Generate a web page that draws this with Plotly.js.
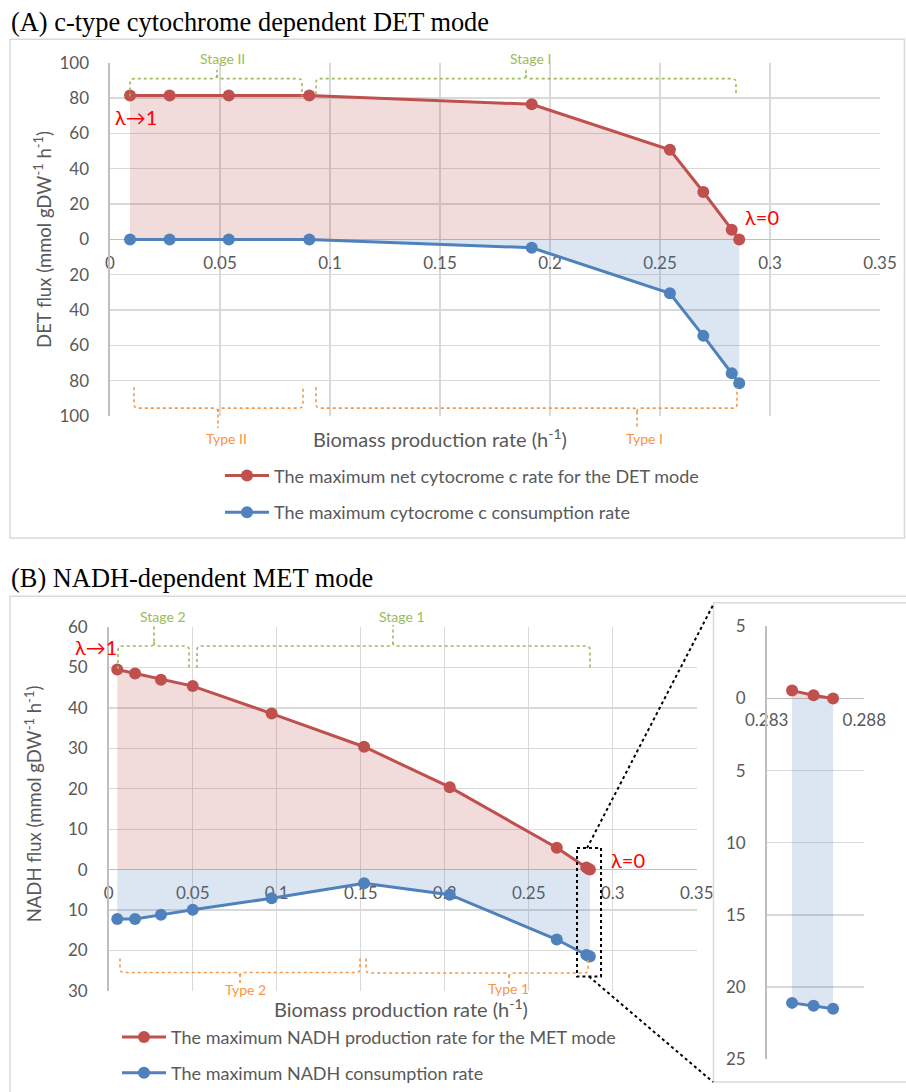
<!DOCTYPE html>
<html>
<head>
<meta charset="utf-8">
<script src="https://cdn.plot.ly/plotly-3.0.1.min.js"></script>
<style>html,body{margin:0;padding:0;background:#fff;}#chart{width:906px;height:1092px;}</style>
</head>
<body>
<div id="chart"></div>
<script>
// ---------- DATA ----------
// Panel A: c-type cytochrome dependent DET mode
const biomassA = [0.0091, 0.0271, 0.054, 0.0906, 0.1917, 0.2545, 0.2697, 0.2826, 0.286];
const netCytA  = [81.4, 81.4, 81.4, 81.4, 76.5, 50.7, 26.8, 5.5, 0];
const consCytA = [0, 0, 0, 0, -4.7, -30.5, -54.6, -75.7, -81.4];
// Panel B: NADH-dependent MET mode
const biomassB = [0.0051, 0.0157, 0.0311, 0.05, 0.097, 0.152, 0.203, 0.2667, 0.2843, 0.2854, 0.2864];
const prodNadhB = [49.5, 48.5, 47.0, 45.4, 38.6, 30.4, 20.4, 5.4, 0.55, 0.23, 0];
const consNadhB = [-12.2, -12.2, -11.2, -9.95, -7.1, -3.4, -6.2, -17.3, -21.1, -21.3, -21.5];
// Inset: last three points of panel B
const insetCount = 3;

// Tick labels
const xTickVals = [0, 0.05, 0.1, 0.15, 0.2, 0.25, 0.3, 0.35];
const xTickText = ['0', '0.05', '0.1', '0.15', '0.2', '0.25', '0.3', '0.35'];
const yTickValsA = [-100, -80, -60, -40, -20, 0, 20, 40, 60, 80, 100];
const yTickTextA = ['100', '80', '60', '40', '20', '0', '20', '40', '60', '80', '100'];
const yTickValsB = [-30, -20, -10, 0, 10, 20, 30, 40, 50, 60];
const yTickTextB = ['30', '20', '10', '0', '10', '20', '30', '40', '50', '60'];
const xTickValsI = [0.283, 0.288];
const xTickTextI = ['0.283', '0.288'];
const yTickValsI = [-25, -20, -15, -10, -5, 0, 5];
const yTickTextI = ['25', '20', '15', '10', '5', '0', '5'];

const legendA = ['The maximum net cytocrome c rate for the DET mode', 'The maximum cytocrome c consumption rate'];
const legendB = ['The maximum NADH production rate for the MET mode', 'The maximum NADH consumption rate'];

// ---------- STYLE ----------
const W = 906, H = 1092;
const RED = '#C0504D', BLUE = '#4F81BD';
const RED_FILL = 'rgba(192,80,77,0.2)', BLUE_FILL = 'rgba(79,129,189,0.2)';
const GREEN = '#9BBB59', ORANGE = '#F79646';
const GRID = '#d9d9d9', AXIS = '#bfbfbf', TXT = '#595959';
const FONT = 'Lato, "DejaVu Sans", sans-serif';
const px = x => x / W;
const py = y => 1 - y / H;

function fillTrace(x, y, color, xa, ya) {
  return {x: x, y: y, mode: 'none', fill: 'tozeroy', fillcolor: color,
          xaxis: xa, yaxis: ya, showlegend: false, hoverinfo: 'skip', type: 'scatter'};
}
function lineTrace(x, y, color, xa, ya, name, legend) {
  const t = {x: x, y: y, mode: 'lines+markers',
          line: {color: color, width: 3}, marker: {color: color, size: 12},
          xaxis: xa, yaxis: ya, showlegend: !!name, type: 'scatter'};
  if (name) { t.name = name; t.legend = legend; }
  return t;
}

const insetX = biomassB.slice(-insetCount);
const insetP = prodNadhB.slice(-insetCount);
const insetC = consNadhB.slice(-insetCount);

const data = [
  fillTrace(biomassA, netCytA, RED_FILL, 'x', 'y'),
  fillTrace(biomassA, consCytA, BLUE_FILL, 'x', 'y'),
  lineTrace(biomassA, netCytA, RED, 'x', 'y', legendA[0], 'legend'),
  lineTrace(biomassA, consCytA, BLUE, 'x', 'y', legendA[1], 'legend2'),
  fillTrace(biomassB, prodNadhB, RED_FILL, 'x2', 'y2'),
  fillTrace(biomassB, consNadhB, BLUE_FILL, 'x2', 'y2'),
  lineTrace(biomassB, prodNadhB, RED, 'x2', 'y2', legendB[0], 'legend3'),
  lineTrace(biomassB, consNadhB, BLUE, 'x2', 'y2', legendB[1], 'legend4'),
  fillTrace(insetX, insetP, RED_FILL, 'x3', 'y3'),
  fillTrace(insetX, insetC, BLUE_FILL, 'x3', 'y3'),
  lineTrace(insetX, insetP, RED, 'x3', 'y3'),
  lineTrace(insetX, insetC, BLUE, 'x3', 'y3')
];

function xAxis(domain, range, tv, tt, zeroY) {
  return {domain: domain, range: range, tickvals: tv, ticktext: tt, anchor: 'free', position: zeroY,
          showgrid: true, gridcolor: GRID, gridwidth: 1.3, zeroline: false, showline: false,
          ticks: '', ticklabelstandoff: 11, layer: 'below traces',
          tickfont: {family: FONT, size: 17, color: TXT}, fixedrange: true};
}
function yAxis(domain, range, tv, tt, anchor) {
  return {domain: domain, range: range, tickvals: tv, ticktext: tt, anchor: anchor,
          showgrid: true, gridcolor: GRID, gridwidth: 1.3,
          zeroline: true, zerolinecolor: AXIS, zerolinewidth: 1.6,
          showline: true, linecolor: AXIS, linewidth: 1.6, ticks: '', ticklabelstandoff: 16,
          tickfont: {family: FONT, size: 17, color: TXT}, fixedrange: true};
}

// Brace shapes (decoration, pixel positions)
function brace(x0, x1, xm, yBar, yEnd, yTip, color) {
  const r = 4;
  const d1 = yEnd > yBar ? 1 : -1;
  const d2 = yTip > yBar ? 1 : -1;
  const P = (x, y) => px(x).toFixed(5) + ',' + py(y).toFixed(5);
  const path = 'M' + P(x0, yEnd) + ' L' + P(x0, yBar + d1 * r) +
    ' Q' + P(x0, yBar) + ' ' + P(x0 + r, yBar) + ' L' + P(xm - r, yBar) +
    ' Q' + P(xm, yBar) + ' ' + P(xm, yBar + d2 * r) + ' L' + P(xm, yTip) +
    ' M' + P(xm, yBar + d2 * r) + ' Q' + P(xm, yBar) + ' ' + P(xm + r, yBar) +
    ' L' + P(x1 - r, yBar) + ' Q' + P(x1, yBar) + ' ' + P(x1, yBar + d1 * r) +
    ' L' + P(x1, yEnd);
  return {type: 'path', xref: 'paper', yref: 'paper', path: path,
          line: {color: color, width: 1.6, dash: 'dot'}};
}
function rect(x0, y0, x1, y1, color, width, dash) {
  return {type: 'rect', xref: 'paper', yref: 'paper', x0: px(x0), x1: px(x1), y0: py(y0), y1: py(y1),
          line: {color: color, width: width, dash: dash || 'solid'}, fillcolor: 'rgba(0,0,0,0)'};
}
function seg(x0, y0, x1, y1, color, width, dash) {
  return {type: 'line', xref: 'paper', yref: 'paper', x0: px(x0), x1: px(x1), y0: py(y0), y1: py(y1),
          line: {color: color, width: width, dash: dash || 'solid'}};
}

const shapes = [
  rect(10, 39.5, 904.5, 540.5, GRID, 1.5),
  rect(10, 599, 912, 1100, GRID, 1.5),
  rect(713.5, 605.5, 912, 1087, GRID, 1.5),
  brace(130, 302, 217, 79, 97, 70, GREEN),
  brace(316, 736, 526, 79, 95, 70, GREEN),
  brace(134, 303, 218, 410, 389, 430, ORANGE),
  brace(316, 737, 637, 410, 389, 430, ORANGE),
  brace(118, 189, 154, 649, 672, 628, GREEN),
  brace(197, 590, 393, 649, 671, 628, GREEN),
  brace(120, 360, 240, 977, 963, 988, ORANGE),
  brace(366, 588, 509, 977.5, 963, 990, ORANGE),
  rect(577, 852, 601, 981, '#000', 2, 'dot'),
  seg(587, 852, 714, 606, '#000', 2, 'dot'),
  seg(589, 981, 713, 1087, '#000', 2, 'dot')
];

function ann(text, x, y, size, color, opts) {
  return Object.assign({text: text, x: px(x), y: py(y), xref: 'paper', yref: 'paper',
          showarrow: false, xanchor: 'center', yanchor: 'middle',
          font: {family: FONT, size: size, color: color}}, opts || {});
}
const SERIF = '"Liberation Serif", "Times New Roman", serif';
const annotations = [
  ann('(A) c-type cytochrome dependent DET mode', 9, 22, 26, '#000', {xanchor: 'left', font: {family: SERIF, size: 26.4, color: '#000'}}),
  ann('(B) NADH-dependent MET mode', 9, 581, 26, '#000', {xanchor: 'left', font: {family: SERIF, size: 26.4, color: '#000'}}),
  ann('Stage II', 222, 59, 14, GREEN),
  ann('Stage I', 530, 59, 14, GREEN),
  ann('Type II', 226, 441, 14, ORANGE),
  ann('Type I', 644, 441, 14, ORANGE),
  ann('Stage 2', 163, 619, 14, GREEN),
  ann('Stage 1', 402, 619, 14, GREEN),
  ann('Type 2', 245, 994, 14, ORANGE),
  ann('Type 1', 508, 993, 14, ORANGE),
  ann('λ→1', 136, 118, 20, '#FF0000'),
  ann('λ=0', 762, 218, 20, '#FF0000'),
  ann('λ→1', 96, 650, 20, '#FF0000'),
  ann('λ=0', 628, 864, 20, '#FF0000'),
  ann('Biomass production rate (h<sup>-1</sup>)', 440, 440, 20, TXT),
  ann('Biomass production rate (h<sup>-1</sup>)', 401, 1013, 20, TXT),
  ann('DET flux (mmol gDW<sup>-1</sup> h<sup>-1</sup>)', 43, 241, 18.5, TXT, {textangle: -90}),
  ann('NADH flux (mmol gDW<sup>-1</sup> h<sup>-1</sup>)', 33, 808, 18.5, TXT, {textangle: -90})
];

function legendAt(x, y) {
  return {x: px(x), y: py(y), xanchor: 'left', yanchor: 'middle', bgcolor: 'rgba(0,0,0,0)',
          font: {family: FONT, size: 18, color: TXT}, itemwidth: 44, borderwidth: 0};
}

const layout = {
  width: W, height: H, margin: {l: 0, r: 0, t: 0, b: 0},
  paper_bgcolor: '#fff', plot_bgcolor: 'rgba(0,0,0,0)', hovermode: false,
  xaxis: xAxis([px(110), px(880)], [0, 0.35], xTickVals, xTickText, py(240.7)),
  yaxis: yAxis([py(418), py(63)], [-100, 100], yTickValsA, yTickTextA, 'x'),
  xaxis2: xAxis([px(108.7), px(696.7)], [0, 0.35], xTickVals, xTickText, py(873.6)),
  yaxis2: yAxis([py(995.4), py(630)], [-30, 60], yTickValsB, yTickTextB, 'x2'),
  xaxis3: xAxis([px(766.7), px(864.3)], [0.283, 0.288], xTickValsI, xTickTextI, py(700.7)),
  yaxis3: yAxis([py(1064), py(629.3)], [-25, 5], yTickValsI, yTickTextI, 'x3'),
  legend: legendAt(220, 478),
  legend2: legendAt(220, 515),
  legend3: legendAt(117, 1042),
  legend4: legendAt(117, 1078),
  shapes: shapes,
  annotations: annotations
};

Plotly.newPlot('chart', data, layout, {staticPlot: true, displayModeBar: false});
</script>
</body>
</html>
